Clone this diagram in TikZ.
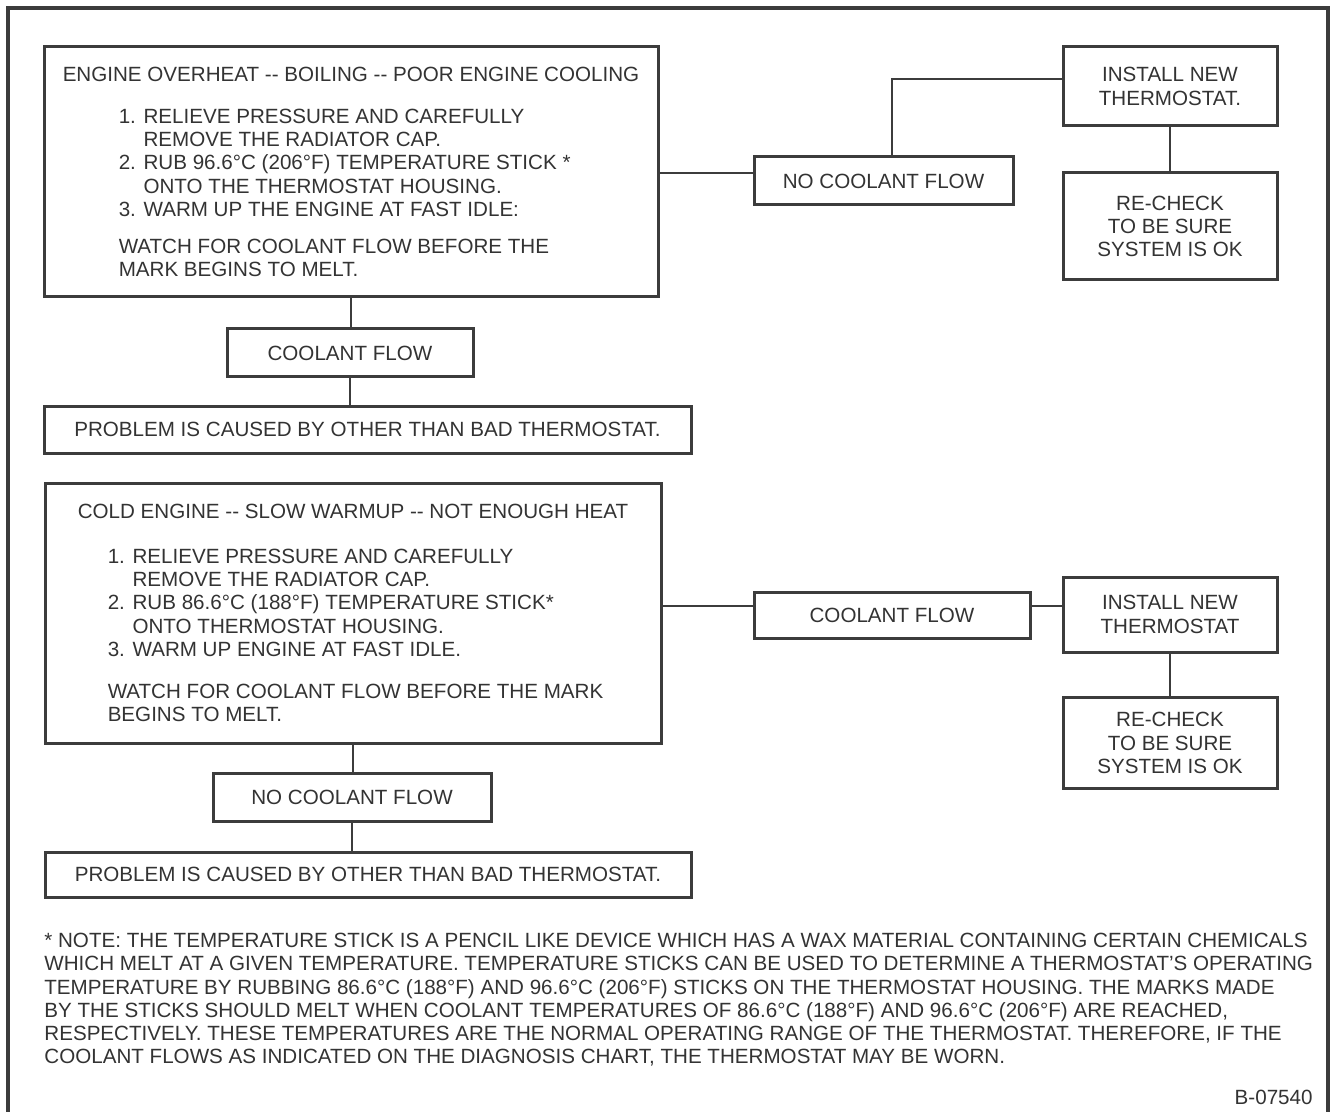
\documentclass[tikz,border=0pt]{standalone}
\usepackage{fontspec}
\setmainfont{Liberation Sans}
\usepackage{tikz}
\usetikzlibrary{positioning,calc}
\usepackage{xcolor}
\definecolor{ink}{HTML}{333333}
\definecolor{rule}{HTML}{3C3C3C}
\newcommand{\chartfont}{\fontsize{10.3}{11.6}\selectfont}
\newcommand{\contd}{\phantom{1. }}
\tikzset{
    frame/.style={
        line width=1.6pt,
        color=rule
    },
    chartbox/.style={
        draw=rule,
        line width=1.5pt,
        text=ink,
        font=\chartfont,
        inner sep=0pt,
        align=center
    },
    stepsbox/.style={
        chartbox,
        align=left
    },
    link/.style={
        line width=1.3pt,
        color=rule
    },
    notetext/.style={
        text=ink,
        font=\chartfont,
        inner sep=0pt,
        align=left
    }
}

\begin{document}
\begin{tikzpicture}[x=0.5pt,y=-0.5pt]

    % Page
    \fill[white] (0,0) rectangle (1332,1112);
    \useasboundingbox (0,0) rectangle (1332,1112);

    \draw[frame]
        (8,1112) -- (8,8) -- (1328,8) -- (1328,1112);

    % Overheat branch
    \node[
        stepsbox,
        minimum width=307pt,
        minimum height=125pt
    ] (hot) at (351,172)
        {ENGINE OVERHEAT -{}- BOILING -{}- POOR ENGINE COOLING\\[9.4pt]
        \hspace*{28pt}1. RELIEVE PRESSURE AND CAREFULLY\\
        \hspace*{28pt}\contd REMOVE THE RADIATOR CAP.\\
        \hspace*{28pt}2. RUB 96.6°C (206°F) TEMPERATURE STICK *\\
        \hspace*{28pt}\contd ONTO THE THERMOSTAT HOUSING.\\
        \hspace*{28pt}3. WARM UP THE ENGINE AT FAST IDLE:\\[6.9pt]
        \hspace*{28pt}WATCH FOR COOLANT FLOW BEFORE THE\\
        \hspace*{28pt}MARK BEGINS TO MELT.};

    \node[
        chartbox,
        minimum width=123pt,
        minimum height=24pt
    ] (hotflow) at (350,353)
        {COOLANT FLOW};

    \node[
        chartbox,
        minimum width=323.5pt,
        minimum height=23.5pt
    ] (hotother) at (367.5,429.5)
        {PROBLEM IS CAUSED BY OTHER THAN BAD THERMOSTAT.};

    \node[
        chartbox,
        minimum width=129.5pt,
        minimum height=24pt
    ] (hotnoflow) at (883.5,181)
        {NO COOLANT FLOW};

    \node[
        chartbox,
        minimum width=107pt,
        minimum height=39.5pt
    ] (hotnew) at (1170,86.5)
        {INSTALL NEW\\THERMOSTAT.};

    \node[
        chartbox,
        minimum width=107pt,
        minimum height=53.5pt
    ] (hotcheck) at (1170,226.5)
        {RE-CHECK\\TO BE SURE\\SYSTEM IS OK};

    % Cold branch
    \node[
        stepsbox,
        minimum width=308pt,
        minimum height=130pt
    ] (cold) at (353,613)
        {COLD ENGINE -{}- SLOW WARMUP -{}- NOT ENOUGH HEAT\\[10.9pt]
        \hspace*{15pt}1. RELIEVE PRESSURE AND CAREFULLY\\
        \hspace*{15pt}\contd REMOVE THE RADIATOR CAP.\\
        \hspace*{15pt}2. RUB 86.6°C (188°F) TEMPERATURE STICK*\\
        \hspace*{15pt}\contd ONTO THERMOSTAT HOUSING.\\
        \hspace*{15pt}3. WARM UP ENGINE AT FAST IDLE.\\[9.4pt]
        \hspace*{15pt}WATCH FOR COOLANT FLOW BEFORE THE MARK\\
        \hspace*{15pt}BEGINS TO MELT.};

    \node[
        chartbox,
        minimum width=139pt,
        minimum height=24pt
    ] (coldnoflow) at (352,797)
        {NO COOLANT FLOW};

    \node[
        chartbox,
        minimum width=323pt,
        minimum height=22.5pt
    ] (coldother) at (368,874.5)
        {PROBLEM IS CAUSED BY OTHER THAN BAD THERMOSTAT.};

    \node[
        chartbox,
        minimum width=138pt,
        minimum height=23pt
    ] (coldflow) at (892,615)
        {COOLANT FLOW};

    \node[
        chartbox,
        minimum width=107pt,
        minimum height=37.5pt
    ] (coldnew) at (1170,614.5)
        {INSTALL NEW\\THERMOSTAT};

    \node[
        chartbox,
        minimum width=107pt,
        minimum height=45.5pt
    ] (coldcheck) at (1170,743)
        {RE-CHECK\\TO BE SURE\\SYSTEM IS OK};

    % Links
    \draw[link] (hot.south) -- (hot.south |- hotflow.north);
    \draw[link] (hotflow.south) -- (hotflow.south |- hotother.north);
    \draw[link]
        ([yshift=4pt]hotnoflow.west)
        -- ([yshift=4pt]hotnoflow.west -| hot.east);
    \draw[link]
        ([xshift=4.25pt]hotnoflow.north)
        |- ([yshift=3.75pt]hotnew.west);
    \draw[link] (hotnew.south) -- (hotcheck.north);

    \draw[link] (cold.south) -- (cold.south |- coldnoflow.north);
    \draw[link] (coldnoflow.south) -- (coldnoflow.south |- coldother.north);
    \draw[link]
        ([yshift=4.5pt]coldflow.west)
        -- ([yshift=4.5pt]coldflow.west -| cold.east);
    \draw[link]
        ([yshift=4.5pt]coldflow.east)
        -- ([yshift=4.5pt]coldflow.east -| coldnew.west);
    \draw[link] (coldnew.south) -- (coldcheck.north);

    % Note
    \node[
        notetext,
        anchor=north west
    ] (note) at (44,933)
        {* NOTE: THE TEMPERATURE STICK IS A PENCIL LIKE DEVICE WHICH HAS A WAX MATERIAL CONTAINING CERTAIN CHEMICALS\\
        WHICH MELT AT A GIVEN TEMPERATURE. TEMPERATURE STICKS CAN BE USED TO DETERMINE A THERMOSTAT'S OPERATING\\
        TEMPERATURE BY RUBBING 86.6°C (188°F) AND 96.6°C (206°F) STICKS ON THE THERMOSTAT HOUSING. THE MARKS MADE\\
        BY THE STICKS SHOULD MELT WHEN COOLANT TEMPERATURES OF 86.6°C (188°F) AND 96.6°C (206°F) ARE REACHED,\\
        RESPECTIVELY. THESE TEMPERATURES ARE THE NORMAL OPERATING RANGE OF THE THERMOSTAT. THEREFORE, IF THE\\
        COOLANT FLOWS AS INDICATED ON THE DIAGNOSIS CHART, THE THERMOSTAT MAY BE WORN.};

    \node[
        notetext,
        anchor=east
    ] (code) at (1313,1097)
        {B-07540};

\end{tikzpicture}
\end{document}
